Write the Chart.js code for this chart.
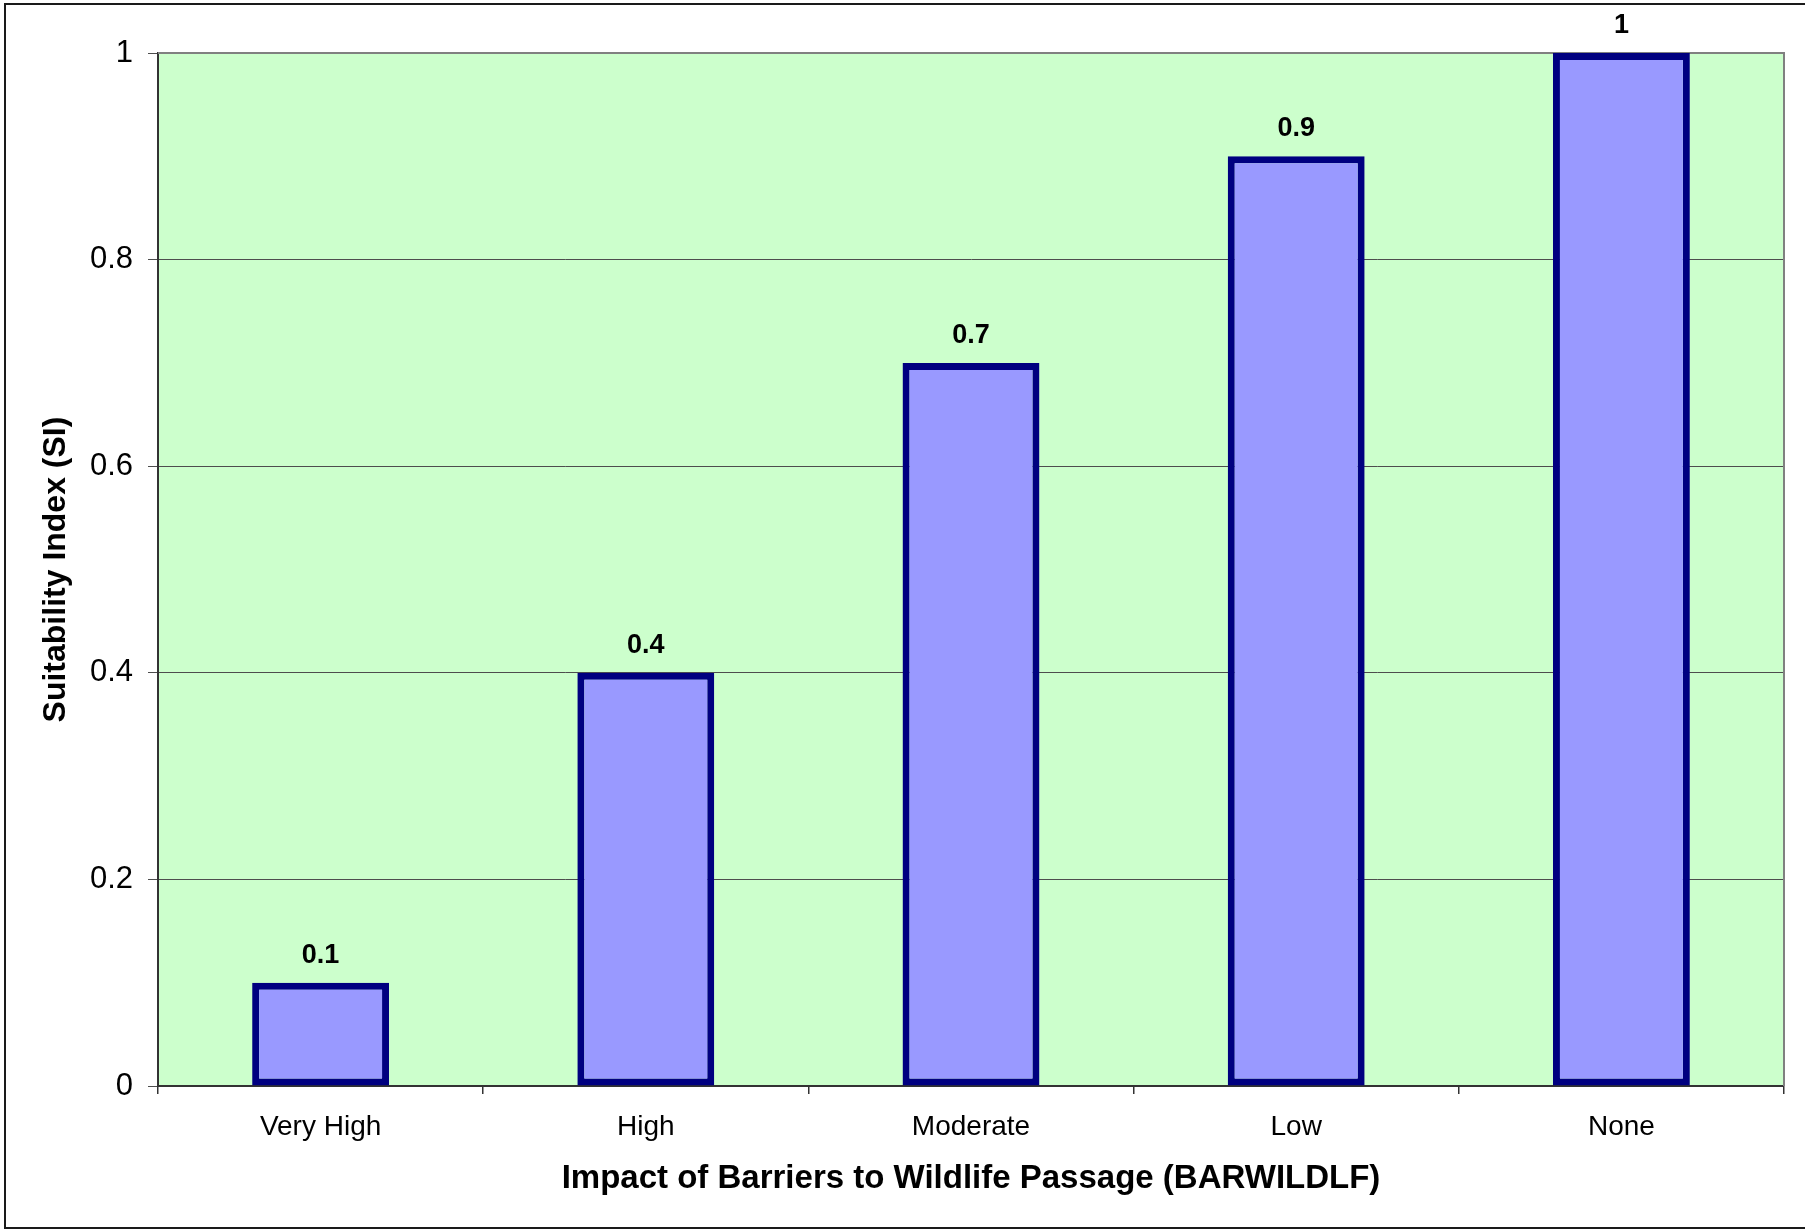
<!DOCTYPE html>
<html>
<head>
<meta charset="utf-8">
<title>BARWILDLF suitability index</title>
<script src="https://cdn.jsdelivr.net/npm/chart.js@4/dist/chart.umd.min.js"></script>
<style>
  html, body { margin: 0; padding: 0; background: #fff; }
  #wrap { width: 1805px; height: 1231px; position: relative; }
</style>
</head>
<body>
<div id="wrap"><canvas id="chartSI"></canvas></div>
<script>
// datos del grafico
const categories = ["Very High", "High", "Moderate", "Low", "None"];
const siValues = [0.1, 0.4, 0.7, 0.9, 1];
const yTicks = [0, 0.2, 0.4, 0.6, 0.8, 1];

const FONT = "'Liberation Sans', Arial, sans-serif";

// fondo verde del area de trazado + marco exterior
const plotFrame = {
  id: "plotFrame",
  beforeDraw(chart) {
    const { ctx, chartArea: a } = chart;
    ctx.save();
    ctx.fillStyle = "#ffffff";
    ctx.fillRect(0, 0, chart.width, chart.height);
    ctx.fillStyle = "#CCFFCC";
    ctx.fillRect(a.left, a.top, a.right - a.left, a.bottom - a.top);
    ctx.strokeStyle = "#1a1a1a";
    ctx.lineWidth = 2;
    ctx.strokeRect(5, 4, chart.width + 10, 1224);
    ctx.restore();
  },
  beforeDatasetsDraw(chart) {
    // borde gris arriba y a la derecha
    const { ctx, chartArea: a } = chart;
    ctx.save();
    ctx.strokeStyle = "#808080";
    ctx.lineWidth = 2;
    ctx.beginPath();
    ctx.moveTo(a.left, a.top);
    ctx.lineTo(a.right, a.top);
    ctx.lineTo(a.right, a.bottom);
    ctx.stroke();
    ctx.restore();
  }
};

// etiquetas de valor encima de cada barra
const barLabels = {
  id: "barLabels",
  afterDatasetsDraw(chart) {
    const { ctx } = chart;
    const meta = chart.getDatasetMeta(0);
    ctx.save();
    ctx.font = "bold 27px " + FONT;
    ctx.fillStyle = "#000";
    ctx.textAlign = "center";
    ctx.textBaseline = "alphabetic";
    meta.data.forEach((bar, i) => {
      ctx.fillText(String(siValues[i]), bar.x, bar.y - 20);
    });
    ctx.restore();
  }
};

const ctx = document.getElementById("chartSI").getContext("2d");
new Chart(ctx, {
  type: "bar",
  data: {
    labels: categories,
    datasets: [{
      data: siValues,
      backgroundColor: "#9999FF",
      borderColor: "#000080",
      borderWidth: 7,
      borderSkipped: false,
      categoryPercentage: 1,
      barPercentage: 0.421
    }]
  },
  options: {
    responsive: true,
    maintainAspectRatio: false,
    animation: false,
    layout: { padding: { top: 53, right: 21, bottom: 0, left: 0 } },
    plugins: {
      legend: { display: false },
      tooltip: { enabled: false }
    },
    scales: {
      x: {
        afterFit(scale) { scale.height = 145; },
        grid: {
          offset: true,
          drawOnChartArea: false,
          drawTicks: true,
          tickLength: 8,
          color: "#333333",
          lineWidth: 1.5
        },
        border: { display: true, color: "#333333", width: 2 },
        ticks: {
          color: "#000",
          padding: 16,
          font: { family: FONT, size: 28 }
        },
        title: {
          display: true,
          text: "Impact of Barriers to Wildlife Passage (BARWILDLF)",
          color: "#000",
          font: { family: FONT, size: 33, weight: "bold" },
          padding: { top: 0, bottom: 32 }
        }
      },
      y: {
        min: 0,
        max: 1,
        afterFit(scale) { scale.width = 158; },
        afterBuildTicks(scale) {
          scale.ticks = yTicks.map(v => ({ value: v }));
        },
        grid: {
          drawTicks: true,
          tickLength: 10,
          color: "#4d4d4d",
          lineWidth: 1
        },
        border: { display: true, color: "#333333", width: 2 },
        ticks: {
          color: "#000",
          padding: 15,
          font: { family: FONT, size: 31 },
          callback: v => String(v)
        },
        title: {
          display: true,
          text: "Suitability Index (SI)",
          color: "#000",
          font: { family: FONT, size: 32, weight: "bold" },
          padding: { top: 37, bottom: 0 }
        }
      }
    }
  },
  plugins: [plotFrame, barLabels]
});
</script>
</body>
</html>
